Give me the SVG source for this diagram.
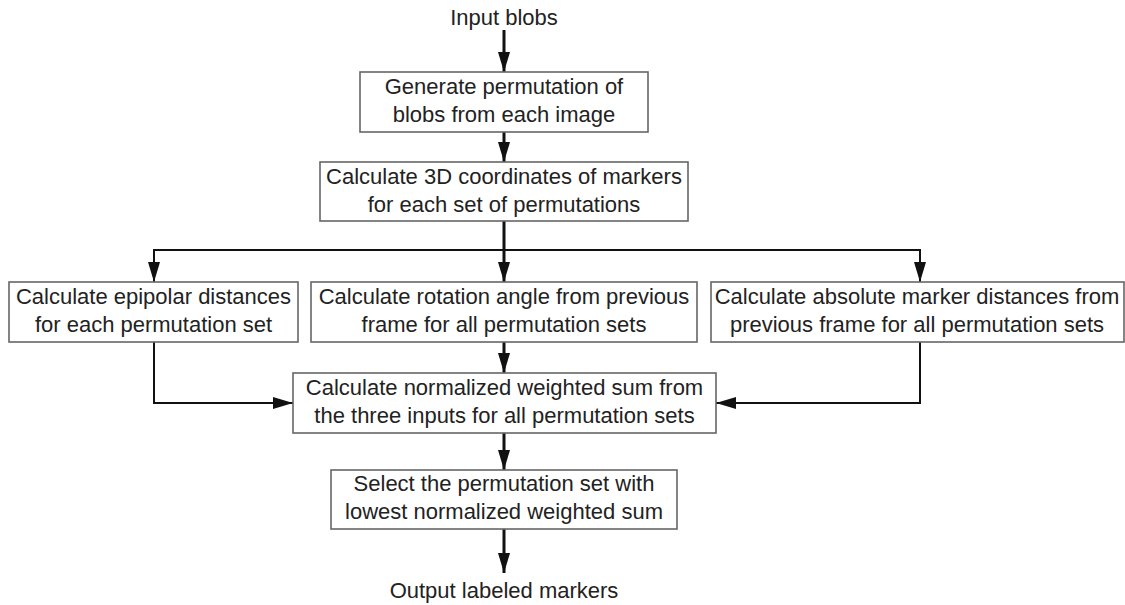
<svg xmlns="http://www.w3.org/2000/svg" width="1125" height="605" viewBox="0 0 1125 605">
<style>
.box{fill:#fff;stroke:#666;stroke-width:1.6}
.t{font-family:"Liberation Sans",Arial,sans-serif;font-size:22px;fill:#222;text-anchor:middle}
.c{fill:none;stroke:#111;stroke-width:3}
.s{fill:none;stroke:#111;stroke-width:2}
</style>
<defs>
<marker id="ah" markerUnits="userSpaceOnUse" markerWidth="21" markerHeight="13" refX="20" refY="6" orient="auto">
<path d="M0,0 L20,6 L0,12 z" fill="#111"/>
</marker>
</defs>
<rect width="1125" height="605" fill="#fff"/>
<g id="connectors">
<line class="c" x1="504" y1="30" x2="504" y2="72" marker-end="url(#ah)"/>
<line class="c" x1="504" y1="132" x2="504" y2="162" marker-end="url(#ah)"/>
<line class="c" x1="504" y1="221" x2="504" y2="282" marker-end="url(#ah)"/>
<polyline class="s" points="504,250 154,250 154,282" marker-end="url(#ah)"/>
<polyline class="s" points="504,250 920,250 920,282" marker-end="url(#ah)"/>
<line class="c" x1="504" y1="342" x2="504" y2="373" marker-end="url(#ah)"/>
<polyline class="s" points="154,342 154,403 293,403" marker-end="url(#ah)"/>
<polyline class="s" points="920,342 920,403 716,403" marker-end="url(#ah)"/>
<line class="c" x1="504" y1="433" x2="504" y2="470" marker-end="url(#ah)"/>
<line class="c" x1="504" y1="529" x2="504" y2="573" marker-end="url(#ah)"/>
</g>
<g id="input"><text class="t" x="504" y="25">Input blobs</text></g>
<g id="generate">
<rect class="box" x="360" y="72" width="288" height="60"/>
<text class="t" x="504" y="94">Generate permutation of</text>
<text class="t" x="504" y="122">blobs from each image</text>
</g>
<g id="coords">
<rect class="box" x="320" y="162" width="368" height="59"/>
<text class="t" x="504" y="184">Calculate 3D coordinates of markers</text>
<text class="t" x="504" y="212">for each set of permutations</text>
</g>
<g id="epipolar">
<rect class="box" x="9" y="282" width="289" height="60"/>
<text class="t" x="153.5" y="304">Calculate epipolar distances</text>
<text class="t" x="153.5" y="332">for each permutation set</text>
</g>
<g id="rotation">
<rect class="box" x="311" y="282" width="386" height="60"/>
<text class="t" x="504" y="304">Calculate rotation angle from previous</text>
<text class="t" x="504" y="332">frame for all permutation sets</text>
</g>
<g id="absolute">
<rect class="box" x="711" y="282" width="413" height="60"/>
<text class="t" x="917" y="304">Calculate absolute marker distances from</text>
<text class="t" x="917" y="332">previous frame for all permutation sets</text>
</g>
<g id="weighted">
<rect class="box" x="293" y="373" width="423" height="60"/>
<text class="t" x="504.5" y="395">Calculate normalized weighted sum from</text>
<text class="t" x="504.5" y="423">the three inputs for all permutation sets</text>
</g>
<g id="select">
<rect class="box" x="331" y="470" width="346" height="59"/>
<text class="t" x="504" y="491">Select the permutation set with</text>
<text class="t" x="504" y="519">lowest normalized weighted sum</text>
</g>
<g id="output"><text class="t" x="504" y="598">Output labeled markers</text></g>
</svg>
